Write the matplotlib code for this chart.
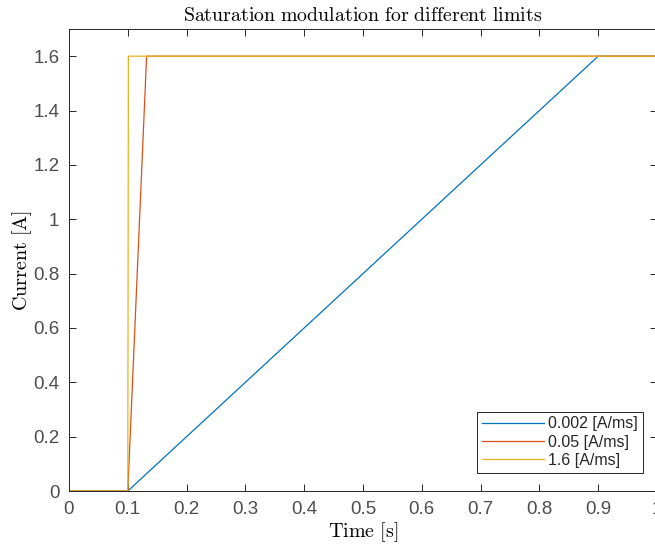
import matplotlib
matplotlib.use("Agg")
import matplotlib.pyplot as plt

# saturation limits (rate in A/ms) and the time each ramp hits the 1.6 A ceiling
labels = ['0.002 [A/ms]', '0.05 [A/ms]', '1.6 [A/ms]']
colors = ['#0072BD', '#D95319', '#EDB120']
t_start = 0.1
t_sat = [0.9, 0.132, 0.101]
i_max = 1.6
t_end = 1.0

plt.rcParams['mathtext.fontset'] = 'cm'
plt.rcParams['font.family'] = ['Liberation Sans', 'DejaVu Sans']

fig = plt.figure(figsize=(6.55, 5.47), dpi=100)
ax = fig.add_axes([69 / 655, 56 / 547, 588 / 655, 462 / 547])

for lab, col, ts in zip(labels, colors, t_sat):
    ax.plot([0, t_start, ts, t_end], [0, 0, i_max, i_max], color=col, lw=0.9, label=lab)

ax.set_xlim(0, 1)
ax.set_ylim(0, 1.7)
ax.set_xticks([0, 0.1, 0.2, 0.3, 0.4, 0.5, 0.6, 0.7, 0.8, 0.9, 1.0])
ax.set_xticklabels(['0', '0.1', '0.2', '0.3', '0.4', '0.5', '0.6', '0.7', '0.8', '0.9', '1'])
ax.set_yticks([0, 0.2, 0.4, 0.6, 0.8, 1.0, 1.2, 1.4, 1.6])
ax.set_yticklabels(['0', '0.2', '0.4', '0.6', '0.8', '1', '1.2', '1.4', '1.6'])
ax.tick_params(direction='in', top=True, right=True, length=5, width=0.7,
               colors='#262626', labelsize=13.5, pad=7)
ax.tick_params(axis='x', labelcolor='#4d4d4d')
ax.tick_params(axis='y', labelcolor='#4d4d4d')
for s in ax.spines.values():
    s.set_color('#262626')
    s.set_linewidth(0.7)

ax.set_title(r'$\mathrm{Saturation\ modulation\ for\ different\ limits}$', fontsize=14.3, pad=6)
ax.set_xlabel(r'$\mathrm{Time\ [s]}$', fontsize=14.5, labelpad=2)
ax.set_ylabel(r'$\mathrm{Current\ [A]}$', fontsize=14.5, labelpad=-1)

leg = ax.legend(loc='lower right', bbox_to_anchor=(0.976, 0.04), fontsize=11.5,
                fancybox=False, framealpha=1, edgecolor='#262626', borderpad=0.3,
                handlelength=3.9, handletextpad=0.25, labelspacing=0.2, borderaxespad=0)
leg.get_frame().set_linewidth(0.7)
for txt in leg.get_texts():
    txt.set_color('#262626')

fig.savefig('out.png', dpi=100)
